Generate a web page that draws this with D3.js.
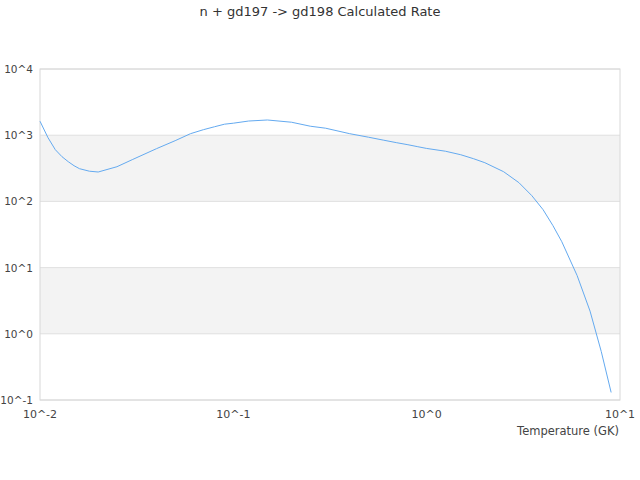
<!DOCTYPE html>
<html lang="en">
<head>
  <meta charset="UTF-8" />
  <title>n + gd197 -> gd198 Calculated Rate</title>
  <style>
    body { margin: 0; background: #fff; }
    svg { display: block; font-family: "DejaVu Sans", sans-serif; }
  </style>
</head>
<body>
  <svg width="640" height="480"></svg>

  <script src="https://d3js.org/d3.v7.min.js"></script>
  <script>
    // Temperature grid (GK) and the calculated rate
    const temps = [
      0.01, 0.011, 0.012, 0.013, 0.014, 0.015, 0.016, 0.018, 0.02, 0.025,
      0.03, 0.04, 0.05, 0.06, 0.07, 0.08, 0.09, 0.1, 0.12, 0.15,
      0.2, 0.25, 0.3, 0.4, 0.5, 0.6, 0.7, 0.8, 0.9, 1,
      1.25, 1.5, 1.75, 2, 2.5, 3, 3.5, 4, 4.5, 5,
      6, 7, 8, 9
    ];
    const rates = [
      1626, 916, 604, 473, 398, 346, 312, 286, 278, 334,
      427, 625, 826, 1054, 1211, 1343, 1466, 1518, 1637, 1697,
      1570, 1367, 1276, 1054, 933, 840, 770, 718, 670, 631,
      573, 507, 441, 384, 281, 192, 122, 75, 43, 24.6,
      7.6, 2.2, 0.54, 0.13
    ];
    const xTicks = [0.01, 0.1, 1, 10];
    const xTickLabels = ['10^-2', '10^-1', '10^0', '10^1'];
    const yTicks = [0.1, 1, 10, 100, 1000, 10000];
    const yTickLabels = ['10^-1', '10^0', '10^1', '10^2', '10^3', '10^4'];

    const margin = { top: 69, right: 20, bottom: 80, left: 40 };
    const width = 640, height = 480;
    const svg = d3.select('svg');

    const x = d3.scaleLog().domain([0.01, 10]).range([margin.left, width - margin.right]);
    const y = d3.scaleLog().domain([0.1, 10000]).range([height - margin.bottom, margin.top]);

    // alternating bands
    const bands = [[1, 10], [100, 1000]];
    svg.append('g').selectAll('rect')
      .data(bands)
      .enter().append('rect')
      .attr('x', x(0.01))
      .attr('width', x(10) - x(0.01))
      .attr('y', d => y(d[1]))
      .attr('height', d => y(d[0]) - y(d[1]))
      .attr('fill', '#f3f3f3');

    // horizontal grid lines
    svg.append('g').selectAll('line')
      .data(yTicks)
      .enter().append('line')
      .attr('x1', x(0.01)).attr('x2', x(10))
      .attr('y1', d => y(d)).attr('y2', d => y(d))
      .attr('stroke', '#e0e0e0');

    // plot frame
    svg.append('rect')
      .attr('x', x(0.01)).attr('y', y(10000))
      .attr('width', x(10) - x(0.01))
      .attr('height', y(0.1) - y(10000))
      .attr('fill', 'none')
      .attr('stroke', '#d8d8d8');

    // y tick labels
    svg.append('g').selectAll('text')
      .data(yTicks)
      .enter().append('text')
      .attr('x', margin.left - 7)
      .attr('y', d => y(d) + 4)
      .attr('text-anchor', 'end')
      .attr('font-size', 10.5)
      .attr('fill', '#444')
      .text((d, i) => yTickLabels[i]);

    // x tick labels
    svg.append('g').selectAll('text')
      .data(xTicks)
      .enter().append('text')
      .attr('x', d => x(d))
      .attr('y', height - margin.bottom + 18)
      .attr('text-anchor', 'middle')
      .attr('font-size', 11)
      .attr('fill', '#444')
      .text((d, i) => xTickLabels[i]);

    // axis title
    svg.append('text')
      .attr('x', width - margin.right - 1)
      .attr('y', 435)
      .attr('text-anchor', 'end')
      .attr('font-size', 11.5)
      .attr('fill', '#444')
      .text('Temperature (GK)');

    // chart title
    svg.append('text')
      .attr('x', width / 2)
      .attr('y', 16)
      .attr('text-anchor', 'middle')
      .attr('font-size', 13)
      .attr('fill', '#333')
      .text('n + gd197 -> gd198 Calculated Rate');

    // rate curve
    const line = d3.line()
      .x((d, i) => x(temps[i]))
      .y(d => y(d));
    svg.append('path')
      .datum(rates)
      .attr('d', line)
      .attr('fill', 'none')
      .attr('stroke', '#64aaf0')
      .attr('stroke-width', 1);
  </script>
</body>
</html>
